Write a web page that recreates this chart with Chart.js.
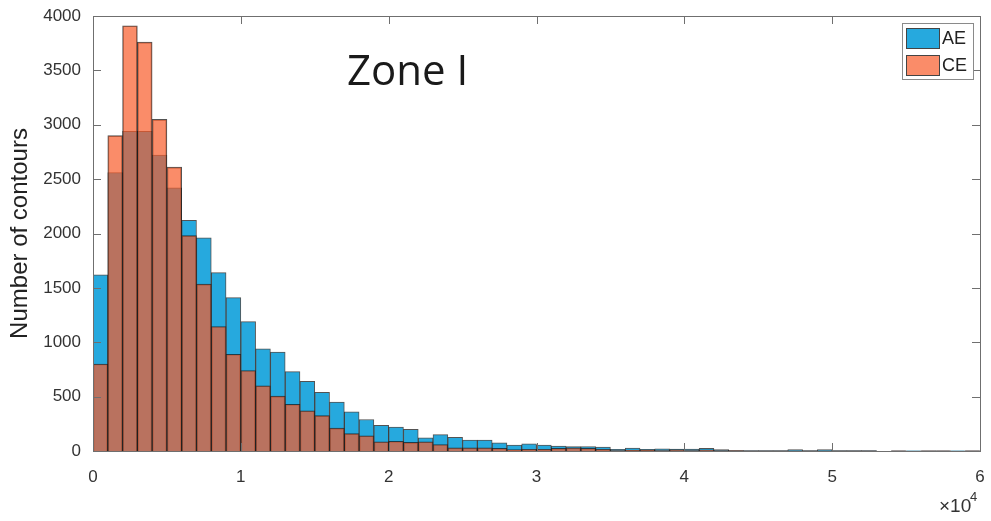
<!DOCTYPE html>
<html>
<head>
<meta charset="utf-8">
<script src="https://cdn.jsdelivr.net/npm/chart.js@4.4.1/dist/chart.umd.min.js"></script>
<style>
    html, body { margin: 0; padding: 0; background: #fff; }
    #wrap { width: 991px; height: 521px; position: relative; }
</style>
</head>
<body>
<div id="wrap"><canvas id="histChart"></canvas></div>
<script>
// histogram bins of 1000, 0 .. 60000
const binWidth = 1000;
const binStarts = [];
for (let i = 0; i < 60; i++) binStarts.push(i * binWidth);

const aeCounts = [1620, 2560, 2940, 2940, 2720, 2420, 2120, 1960, 1640, 1410,
                  1190, 940, 910, 730, 640, 540, 450, 360, 290, 235,
                  220, 200, 120, 150, 125, 100, 100, 75, 55, 65,
                  55, 45, 40, 40, 35, 15, 28, 15, 20, 18,
                  18, 25, 12, 5, 5, 5, 3, 12, 5, 12,
                  4, 4, 4, 0, 2, 1, 1, 2, 1, 2];
const ceCounts = [800, 2900, 3910, 3760, 3050, 2610, 1980, 1535, 1145, 890,
                  740, 600, 505, 430, 370, 325, 210, 160, 140, 85,
                  90, 80, 85, 60, 30, 30, 30, 25, 12, 15,
                  15, 25, 30, 25, 15, 5, 8, 8, 5, 10,
                  5, 10, 3, 3, 2, 2, 1, 2, 1, 2,
                  1, 1, 1, 0, 1, 0, 1, 1, 0, 1];
const seriesNames = ['AE', 'CE'];
const yTicks = [0, 500, 1000, 1500, 2000, 2500, 3000, 3500, 4000];
const xTickLabels = ['0', '1', '2', '3', '4', '5', '6'];

const aeColor = 'rgb(38, 169, 222)';
const ceColor = 'rgba(248, 91, 42, 0.7)';
const axisColor = '#6f6f6f';

function toPoints(counts) {
    return counts.map((c, i) => ({ x: binStarts[i] + binWidth / 2, y: c }));
}

// MATLAB-like box, inward ticks, title, legend and exponent
const decorPlugin = {
    id: 'decor',
    afterDraw(chart) {
        const ctx = chart.ctx;
        const { left, right, top, bottom } = chart.chartArea;
        const xs = chart.scales.x, ys = chart.scales.y;
        ctx.save();
        ctx.strokeStyle = axisColor;
        ctx.lineWidth = 1;
        ctx.strokeRect(Math.round(left) + 0.5, Math.round(top) + 0.5,
            Math.round(right - left), Math.round(bottom - top));
        ctx.beginPath();
        xTickLabels.forEach((l, i) => {
            const px = Math.round(xs.getPixelForValue(i * 10000)) + 0.5;
            ctx.moveTo(px, bottom); ctx.lineTo(px, bottom - 8);
            ctx.moveTo(px, top); ctx.lineTo(px, top + 8);
        });
        yTicks.forEach(v => {
            const py = Math.round(ys.getPixelForValue(v)) + 0.5;
            ctx.moveTo(left, py); ctx.lineTo(left + 8, py);
            ctx.moveTo(right, py); ctx.lineTo(right - 8, py);
        });
        ctx.stroke();

        // title inside plot
        ctx.fillStyle = '#1a1a1a';
        ctx.font = '42px "Open Sans"';
        ctx.textAlign = 'left';
        ctx.textBaseline = 'alphabetic';
        ctx.fillText('Zone I', 347, 85);

        // exponent
        ctx.font = '19px "Liberation Sans"';
        ctx.fillStyle = '#333';
        ctx.fillText('\u00d710', 939, 512);
        ctx.font = '13px "Liberation Sans"';
        ctx.fillText('4', 970, 501);

        // legend
        ctx.fillStyle = '#fff';
        ctx.fillRect(902, 23, 72, 57);
        ctx.strokeStyle = '#8a8a8a';
        ctx.strokeRect(902.5, 23.5, 71, 56);
        const swatches = [aeColor, ceColor];
        seriesNames.forEach((name, i) => {
            const y0 = 28 + i * 27;
            ctx.fillStyle = swatches[i];
            ctx.fillRect(906, y0, 33, 20);
            ctx.strokeStyle = '#444';
            ctx.strokeRect(906.5, y0 + 0.5, 33, 20);
            ctx.fillStyle = '#222';
            ctx.font = '18px "Liberation Sans"';
            ctx.textBaseline = 'middle';
            ctx.fillText(name, 942, y0 + 11);
        });
        ctx.restore();
    }
};

new Chart(document.getElementById('histChart'), {
    type: 'bar',
    data: {
        datasets: [{
            label: seriesNames[0],
            data: toPoints(aeCounts),
            backgroundColor: aeColor,
            borderColor: 'rgba(25, 25, 25, 0.75)',
            borderWidth: 1,
            grouped: false,
            order: 2
        }, {
            label: seriesNames[1],
            data: toPoints(ceCounts),
            backgroundColor: ceColor,
            borderColor: 'rgba(25, 25, 25, 0.75)',
            borderWidth: 1,
            grouped: false,
            order: 1
        }]
    },
    options: {
        responsive: true,
        maintainAspectRatio: false,
        animation: false,
        barPercentage: 1,
        categoryPercentage: 1,
        layout: { padding: { left: 0, right: 11, top: 16, bottom: 0 } },
        plugins: {
            legend: { display: false },
            tooltip: { enabled: false }
        },
        scales: {
            x: {
                type: 'linear',
                min: 0,
                max: 60000,
                offset: false,
                grid: { display: false, drawTicks: false },
                border: { display: false },
                ticks: {
                    stepSize: 10000,
                    padding: 16,
                    color: '#333',
                    font: { family: 'Liberation Sans', size: 17 },
                    maxRotation: 0,
                    callback: (v) => xTickLabels[v / 10000]
                },
                afterFit: (s) => {
                    s.height = 70;
                    s.paddingLeft = 0;
                    s.paddingRight = 0;
                }
            },
            y: {
                min: 0,
                max: 4000,
                grid: { display: false, drawTicks: false },
                border: { display: false },
                ticks: {
                    stepSize: 500,
                    padding: 12,
                    color: '#333',
                    font: { family: 'Liberation Sans', size: 17 },
                    callback: (v) => String(v)
                },
                title: {
                    display: true,
                    text: 'Number of contours',
                    color: '#222',
                    font: { family: 'Liberation Sans', size: 24 },
                    padding: { top: 6, bottom: 0 }
                },
                afterFit: (s) => {
                    s.width = 93;
                    s.paddingTop = 0;
                    s.paddingBottom = 0;
                }
            }
        }
    },
    plugins: [decorPlugin]
});
</script>
</body>
</html>
